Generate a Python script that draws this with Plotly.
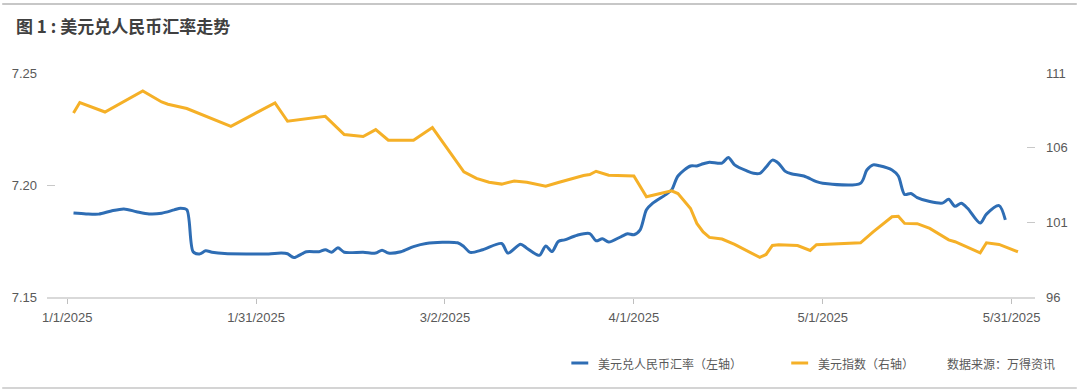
import plotly.graph_objects as go

# ---------------- data ----------------
cny_dates = [
    "2025-01-02", "2025-01-04", "2025-01-06", "2025-01-08", "2025-01-10", "2025-01-12",
    "2025-01-14", "2025-01-16", "2025-01-18", "2025-01-19", "2025-01-20", "2025-01-21",
    "2025-01-22", "2025-01-23", "2025-01-24", "2025-01-26", "2025-01-30", "2025-02-02",
    "2025-02-04", "2025-02-05", "2025-02-06", "2025-02-08", "2025-02-10", "2025-02-11",
    "2025-02-12", "2025-02-13", "2025-02-14", "2025-02-17", "2025-02-19", "2025-02-20",
    "2025-02-21", "2025-02-23", "2025-02-25", "2025-02-27", "2025-03-04", "2025-03-05",
    "2025-03-06", "2025-03-08", "2025-03-11", "2025-03-12", "2025-03-14", "2025-03-15",
    "2025-03-17", "2025-03-18", "2025-03-19", "2025-03-20", "2025-03-21", "2025-03-23",
    "2025-03-25", "2025-03-26", "2025-03-27", "2025-03-28", "2025-03-30", "2025-03-31",
    "2025-04-01", "2025-04-02", "2025-04-03", "2025-04-04", "2025-04-06", "2025-04-07",
    "2025-04-08", "2025-04-10", "2025-04-11", "2025-04-12", "2025-04-13", "2025-04-15",
    "2025-04-16", "2025-04-17", "2025-04-19", "2025-04-20", "2025-04-21", "2025-04-22",
    "2025-04-23", "2025-04-24", "2025-04-25", "2025-04-26", "2025-04-28", "2025-04-30",
    "2025-05-01", "2025-05-07", "2025-05-08", "2025-05-09", "2025-05-10", "2025-05-12",
    "2025-05-13", "2025-05-14", "2025-05-15", "2025-05-16", "2025-05-18", "2025-05-20",
    "2025-05-21", "2025-05-22", "2025-05-23", "2025-05-24", "2025-05-26", "2025-05-27",
    "2025-05-29", "2025-05-30",
]
cny_values = [
    7.1875, 7.1871, 7.1870, 7.1884, 7.1893, 7.1881,
    7.1871, 7.1874, 7.1889, 7.1896, 7.1889, 7.1702,
    7.1692, 7.1706, 7.1700, 7.1694, 7.1692, 7.1692,
    7.1696, 7.1693, 7.1676, 7.1702, 7.1702, 7.1711,
    7.1700, 7.1720, 7.1700, 7.1700, 7.1696, 7.1709,
    7.1696, 7.1702, 7.1725, 7.1739, 7.1742, 7.1725,
    7.1699, 7.1711, 7.1739, 7.1696, 7.1736, 7.1718,
    7.1686, 7.1728, 7.1703, 7.1748, 7.1755, 7.1776,
    7.1783, 7.1751, 7.1760, 7.1745, 7.1770, 7.1782,
    7.1778, 7.1800, 7.1889, 7.1919, 7.1956, 7.1978,
    7.2040, 7.2085, 7.2085, 7.2095, 7.2102, 7.2098,
    7.2123, 7.2090, 7.2062, 7.2052, 7.2052, 7.2080,
    7.2111, 7.2096, 7.2062, 7.2050, 7.2040, 7.2015,
    7.2008, 7.2008, 7.2067, 7.2090, 7.2086, 7.2067,
    7.2040, 7.1958, 7.1962, 7.1944, 7.1926, 7.1919,
    7.1936, 7.1905, 7.1919, 7.1896, 7.1830, 7.1870,
    7.1908, 7.1844,
]

dxy_dates = [
    "2025-01-02", "2025-01-03", "2025-01-07", "2025-01-13", "2025-01-16", "2025-01-17",
    "2025-01-20", "2025-01-27", "2025-02-03", "2025-02-05", "2025-02-11", "2025-02-14",
    "2025-02-17", "2025-02-19", "2025-02-21", "2025-02-25", "2025-02-28", "2025-03-05",
    "2025-03-07", "2025-03-09", "2025-03-11", "2025-03-13", "2025-03-15", "2025-03-17",
    "2025-03-18", "2025-03-20", "2025-03-24", "2025-03-25", "2025-03-26", "2025-03-28",
    "2025-04-01", "2025-04-03", "2025-04-07", "2025-04-08", "2025-04-10", "2025-04-11",
    "2025-04-12", "2025-04-13", "2025-04-15", "2025-04-17", "2025-04-19", "2025-04-21",
    "2025-04-22", "2025-04-23", "2025-04-24", "2025-04-27", "2025-04-29", "2025-04-30",
    "2025-05-07", "2025-05-09", "2025-05-12", "2025-05-13", "2025-05-14", "2025-05-16",
    "2025-05-18", "2025-05-21", "2025-05-22", "2025-05-26", "2025-05-27", "2025-05-29",
    "2025-06-01",
]
dxy_values = [
    108.32, 109.02, 108.39, 109.80, 109.06, 108.91,
    108.62, 107.43, 109.00, 107.77, 108.10, 106.88,
    106.75, 107.21, 106.50, 106.50, 107.35, 104.38,
    103.94, 103.69, 103.56, 103.77, 103.69, 103.54,
    103.42, 103.67, 104.14, 104.20, 104.42, 104.16,
    104.11, 102.71, 103.11, 102.93, 101.93, 100.93,
    100.36, 99.99, 99.88, 99.52, 99.07, 98.65,
    98.85, 99.45, 99.50, 99.45, 99.12, 99.50,
    99.63, 100.36, 101.37, 101.41, 100.93, 100.91,
    100.59, 99.83, 99.70, 98.96, 99.63, 99.52,
    99.03,
]

x_tick_vals = ["2025-01-01", "2025-01-31", "2025-03-02", "2025-04-01", "2025-05-01", "2025-05-31"]
x_tick_text = ["1/1/2025", "1/31/2025", "3/2/2025", "4/1/2025", "5/1/2025", "5/31/2025"]
left_ticks = [7.15, 7.20, 7.25]
right_ticks = [96, 101, 106, 111]

title_text = "图 1 : 美元兑人民币汇率走势"
series1_name = "美元兑人民币汇率（左轴）"
series2_name = "美元指数（右轴）"
source_text = "数据来源：万得资讯"

BLUE = "#2e6db4"
GOLD = "#f5b027"
GREY_TXT = "#595959"
CJK = "Noto Sans CJK SC"
LAT = "Liberation Sans"

# ---------------- figure ----------------
fig = go.Figure()
fig.add_trace(go.Scatter(
    x=dxy_dates, y=dxy_values, name=series2_name, yaxis="y2",
    mode="lines", line=dict(color=GOLD, width=3), showlegend=False,
))
fig.add_trace(go.Scatter(
    x=cny_dates, y=cny_values, name=series1_name, yaxis="y",
    mode="lines", line=dict(color=BLUE, width=3, shape="spline", smoothing=0.8),
    showlegend=False,
))

# plot area: x 45..1038 px, y 73..297 px
L, R, T, B = 45, 42, 73, 95
W, H = 1080, 392
pw, ph = W - L - R, H - T - B


def px(x):
    return (x - L) / pw


def py(y):
    return (H - B - y) / ph


fig.update_layout(
    width=W, height=H,
    margin=dict(l=L, r=R, t=T, b=B),
    paper_bgcolor="white", plot_bgcolor="white",
    font=dict(family=LAT, size=13, color=GREY_TXT),
    xaxis=dict(
        type="date",
        range=["2024-12-28 19:00", "2025-06-03 17:00"],
        tickvals=x_tick_vals, ticktext=x_tick_text,
        showgrid=False, zeroline=False,
        showline=True, linecolor="#d9d9d9", linewidth=1.5,
        ticks="outside", ticklen=5, tickcolor="#bfbfbf", tickwidth=1,
        ticklabelstandoff=3,
        tickfont=dict(family=LAT, size=13, color=GREY_TXT),
    ),
    yaxis=dict(
        range=[7.15, 7.25], tickvals=left_ticks, tickformat=".2f",
        showgrid=False, zeroline=False, showline=False,
        ticks="inside", ticklen=8, tickcolor="#c8c8c8", tickwidth=1,
        ticklabelstandoff=9,
        tickfont=dict(family=LAT, size=13, color=GREY_TXT),
    ),
    yaxis2=dict(
        range=[96, 111], tickvals=right_ticks, overlaying="y", side="right",
        showgrid=False, zeroline=False, showline=False,
        ticks="inside", ticklen=8, tickcolor="#c8c8c8", tickwidth=1,
        ticklabelstandoff=10,
        tickfont=dict(family=LAT, size=13, color=GREY_TXT),
    ),
)

shapes = [
    # top and bottom rule lines
    dict(type="line", xref="paper", yref="paper", x0=px(0), x1=px(W), y0=py(4), y1=py(4),
         line=dict(color="#b4b4b4", width=1.5)),
    dict(type="line", xref="paper", yref="paper", x0=px(0), x1=px(W), y0=py(388), y1=py(388),
         line=dict(color="#d4d4d4", width=2)),
    # legend swatches
    dict(type="line", xref="paper", yref="paper", x0=px(572), x1=px(589), y0=py(363), y1=py(363),
         line=dict(color=BLUE, width=3)),
    dict(type="line", xref="paper", yref="paper", x0=px(793), x1=px(810), y0=py(363), y1=py(363),
         line=dict(color=GOLD, width=3)),
]
fig.update_layout(shapes=shapes)

annotations = [
    dict(text="<b>" + title_text + "</b>", xref="paper", yref="paper", x=px(12), y=py(25),
         xanchor="left", yanchor="middle", showarrow=False,
         font=dict(family=CJK, size=17, color="#404040")),
    dict(text=series1_name, xref="paper", yref="paper", x=px(597), y=py(363),
         xanchor="left", yanchor="middle", showarrow=False,
         font=dict(family=CJK, size=12, color=GREY_TXT)),
    dict(text=series2_name, xref="paper", yref="paper", x=px(818), y=py(363),
         xanchor="left", yanchor="middle", showarrow=False,
         font=dict(family=CJK, size=12, color=GREY_TXT)),
    dict(text=source_text, xref="paper", yref="paper", x=px(1060), y=py(363),
         xanchor="right", yanchor="middle", showarrow=False,
         font=dict(family=CJK, size=12, color=GREY_TXT)),
]
fig.update_layout(annotations=annotations)

fig.write_html("out.html")
